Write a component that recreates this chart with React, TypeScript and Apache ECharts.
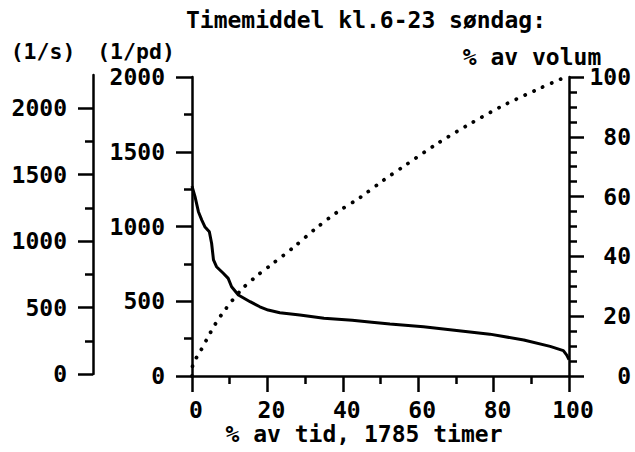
import React, { useEffect, useRef } from "react";
import * as echarts from "echarts";

// Duration curve: % of time vs flow (1/pd)
const flowTime = [0, 0.8, 1.7, 2.6, 3.4, 4.6, 5.2, 5.7, 6.5, 8.3, 9.6, 10.5, 12.3, 15.4, 18, 20.2, 23.3, 28.6, 35, 42.5, 47.7, 52.5, 61.4, 70.2, 79, 88, 95, 98.5, 99.4, 100];
const flowValues = [1270, 1200, 1099, 1043, 999, 965, 888, 776, 731, 687, 653, 597, 542, 497, 463, 441, 423, 408, 386, 373, 360, 348, 330, 305, 280, 241, 198, 170, 140, 110];

// Cumulative volume: % of time vs % of volume
const volTime = [0, 0.3, 1.7, 3.9, 6.1, 8.8, 13.2, 17.2, 21.1, 26.9, 32.6, 38.4, 44.6, 50.7, 56.5, 64.9, 73.7, 82.6, 91.4, 98, 100];
const volPct = [0, 4.4, 7.1, 12.2, 17.2, 22.2, 29, 33.5, 37.3, 43, 49.1, 54.7, 59.7, 65.4, 70.4, 77.6, 84.3, 90.5, 95.7, 99.4, 100];

const lpsMajor = [0, 500, 1000, 1500, 2000];
const lpsMinor = [250, 750, 1250, 1750];

const titleText = "Timemiddel kl.6-23 søndag:";
const xName = "% av tid, 1785 timer";
const rightName = "% av volum";
const lpsName = "(1/s)";
const lpdName = "(1/pd)";

const FONT = "DejaVu Sans Mono";
const INK = "#000";

export default function App() {
  const ref = useRef<HTMLDivElement>(null);
  useEffect(() => {
    if (!ref.current) return;
    const chart = echarts.init(ref.current, undefined, { renderer: "svg" });
    const labelStyle = {
      fontFamily: FONT,
      fontWeight: "bold" as const,
      fontSize: 23,
      color: INK,
      formatter: (v: number) => String(v),
    };
    const axisLine = { show: true, lineStyle: { color: INK, width: 2.5 } };
    const txt = (text: string, x: number, y: number, size = 23) => ({
      type: "text",
      x,
      y,
      style: {
        text,
        fill: INK,
        fontFamily: FONT,
        fontWeight: "bold",
        fontSize: size,
        align: "center",
        verticalAlign: "middle",
      },
    });
    chart.setOption({
      animation: false,
      backgroundColor: "#fff",
      grid: [
        { left: 192, top: 77, width: 377, height: 299 },
        { left: 93, top: 75, width: 10, height: 299 },
      ],
      xAxis: [
        {
          type: "value",
          gridIndex: 0,
          min: 0,
          max: 100,
          interval: 20,
          axisLine,
          axisTick: { show: true, length: 16, lineStyle: { color: INK, width: 2.5 } },
          minorTick: { show: true, splitNumber: 2, length: 8, lineStyle: { color: INK, width: 2.5 } },
          axisLabel: { ...labelStyle, margin: 22, padding: [0, 0, 0, 8] },
          splitLine: { show: false },
          minorSplitLine: { show: false },
        },
        { type: "value", gridIndex: 1, show: false, min: 0, max: 1 },
      ],
      yAxis: [
        {
          type: "value",
          gridIndex: 0,
          position: "left",
          min: 0,
          max: 2000,
          interval: 500,
          axisLine,
          axisTick: { show: true, length: 16, lineStyle: { color: INK, width: 2.5 } },
          minorTick: { show: true, splitNumber: 2, length: 8, lineStyle: { color: INK, width: 2.5 } },
          axisLabel: { ...labelStyle, margin: 27 },
          splitLine: { show: false },
        },
        {
          type: "value",
          gridIndex: 0,
          position: "right",
          min: 0,
          max: 100,
          interval: 20,
          axisLine,
          axisTick: { show: true, length: 15, lineStyle: { color: INK, width: 2.5 } },
          minorTick: { show: true, splitNumber: 4, length: 8, lineStyle: { color: INK, width: 2.5 } },
          axisLabel: { ...labelStyle, margin: 62, align: "right" },
          splitLine: { show: false },
        },
        {
          type: "value",
          gridIndex: 1,
          position: "left",
          min: 0,
          max: 2250,
          interval: 250,
          axisLine,
          axisTick: { show: true, length: 15, customValues: lpsMajor, lineStyle: { color: INK, width: 2.5 } },
          axisLabel: { ...labelStyle, margin: 26, customValues: lpsMajor },
          splitLine: { show: false },
        },
        {
          type: "value",
          gridIndex: 1,
          position: "left",
          offset: 0,
          min: 0,
          max: 2250,
          interval: 250,
          axisLine: { show: false },
          axisTick: { show: true, length: 8, customValues: lpsMinor, lineStyle: { color: INK, width: 2.5 } },
          axisLabel: { show: false },
          splitLine: { show: false },
        },
      ],
      series: [
        {
          type: "line",
          xAxisIndex: 0,
          yAxisIndex: 0,
          data: flowTime.map((t, i) => [t, flowValues[i]]),
          showSymbol: false,
          lineStyle: { color: INK, width: 3 },
        },
        {
          type: "line",
          xAxisIndex: 0,
          yAxisIndex: 1,
          data: volTime.map((t, i) => [t, volPct[i]]),
          showSymbol: false,
          smooth: 0.3,
          lineStyle: { color: INK, width: 3.8, type: [0.1, 9.6], cap: "round" },
        },
      ],
      graphic: [
        txt(titleText, 366, 20),
        txt(lpsName, 43, 51, 21.5),
        txt(lpdName, 136, 51, 21.5),
        txt(rightName, 532, 57),
        txt(xName, 364, 434),
      ],
    });
    return () => chart.dispose();
  }, []);
  return (
    <div
      ref={ref}
      style={{ position: "fixed", left: 0, top: 0, width: 635, height: 452, background: "#fff" }}
    />
  );
}
